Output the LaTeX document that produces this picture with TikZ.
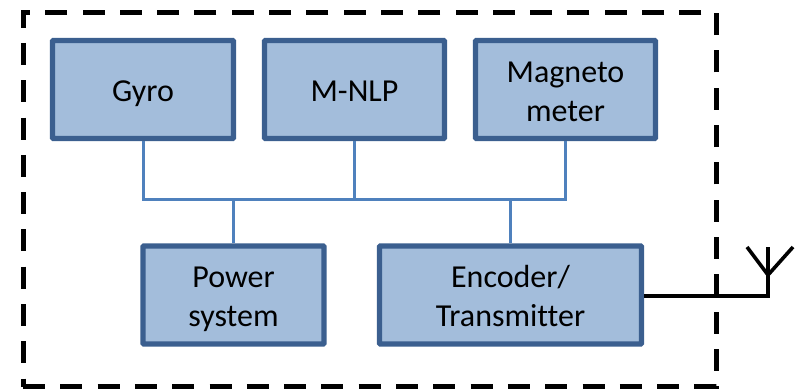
\documentclass[tikz,border=0pt]{standalone}
\usepackage{fontspec}
\setmainfont[Ligatures=NoCommon]{Carlito}
\usepackage[dvipsnames]{xcolor}
\definecolor{boxFill}{HTML}{A3BDDB}
\definecolor{boxEdge}{HTML}{3B5F8F}
\definecolor{busLine}{HTML}{4F81BD}
\tikzset{
    unitBox/.style={draw=boxEdge, fill=boxFill, line width=5.4pt, rounded corners=1pt, align=center, inner sep=0pt, minimum height=98pt,
        text height=30pt, text depth=7pt, font=\fontsize{32}{39}\selectfont},
    twoLines/.style={text height=70pt},
    busWire/.style={busLine, line width=3pt},
    radioWire/.style={black, line width=3.6pt}
}
\begin{document}
\begin{tikzpicture}[x=1pt, y=-1pt]
    \useasboundingbox (0,0) rectangle (797,391);

    % payload outline
    \node [draw, line width=5pt, dash pattern=on 22pt off 15.3pt, minimum width=693pt, minimum height=374pt, inner sep=0pt] (payload) at (369.5,199.5) {};

    % top row
    \node [unitBox, minimum width=181pt] (gyro) at (143,89.5) {Gyro};
    \node [unitBox, minimum width=180pt] (mnlp) at (354.5,89.5) {M-NLP};
    \node [unitBox, twoLines, minimum width=180pt] (magneto) at (565.5,89.5) {Magneto\\meter};

    % bottom row
    \node [unitBox, twoLines, minimum width=181pt] (power) at (233.5,295) {Power\\system};
    \node [unitBox, twoLines, minimum width=262pt] (encoder) at (510.5,295) {Encoder/\\Transmitter};

    % for the bus
    \coordinate (busLeft) at (gyro.south |- 0,199);
    \coordinate (busRight) at (magneto.south |- 0,199);
    \draw [busWire] (gyro.south) -- (busLeft) -- (busRight) -- (magneto.south);
    \draw [busWire] (mnlp.south) -- (mnlp.south |- busLeft);
    \draw [busWire] (power.north) -- (power.north |- busLeft);
    \draw [busWire] (encoder.north) -- (encoder.north |- busLeft);

    % for the antenna
    \coordinate (mastFoot) at (768,296);
    \coordinate (mastTop) at (768,247);
    \coordinate (mastFork) at (768,275);
    \coordinate (prongLeft) at (747,247);
    \coordinate (prongRight) at (793,247);
    \draw [radioWire] (encoder.east |- mastFoot) -- (mastFoot) -- (mastTop);
    \draw [radioWire] (prongLeft) -- (mastFork) -- (prongRight);
\end{tikzpicture}
\end{document}
